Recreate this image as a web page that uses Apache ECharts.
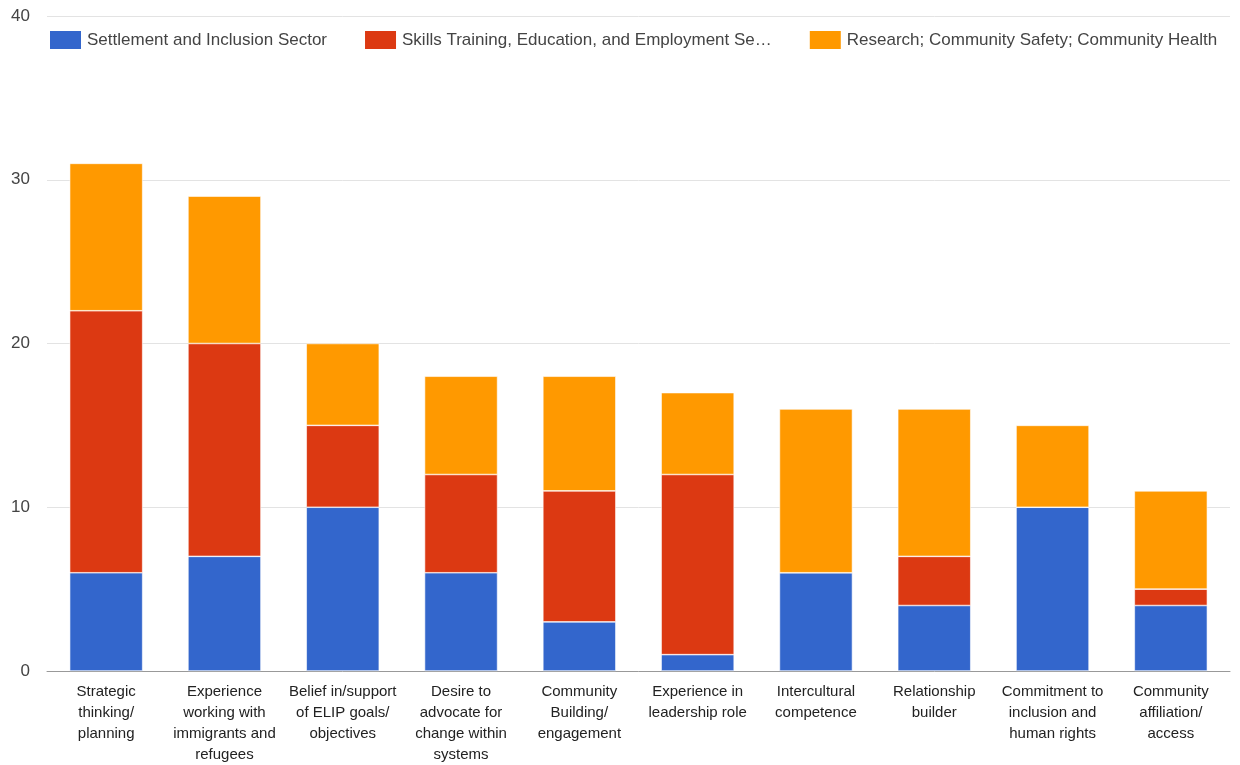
<!DOCTYPE html>
<html>
<head>
<meta charset="utf-8">
<script src="https://cdn.jsdelivr.net/npm/echarts@6/dist/echarts.min.js"></script>
<style>
  html, body { margin: 0; padding: 0; background: #fff; }
  #chart { width: 1240px; height: 765px; }
</style>
</head>
<body>
<div id="chart"></div>
<script>
const categories = [
  'Strategic\nthinking/\nplanning',
  'Experience\nworking with\nimmigrants and\nrefugees',
  'Belief in/support\nof ELIP goals/\nobjectives',
  'Desire to\nadvocate for\nchange within\nsystems',
  'Community\nBuilding/\nengagement',
  'Experience in\nleadership role',
  'Intercultural\ncompetence',
  'Relationship\nbuilder',
  'Commitment to\ninclusion and\nhuman rights',
  'Community\naffiliation/\naccess'
]
const seriesNames = [
  'Settlement and Inclusion Sector',
  'Skills Training, Education, and Employment Sector',
  'Research; Community Safety; Community Health'
]
const settlement = [6, 7, 10, 6, 3, 1, 6, 4, 10, 4]
const skills = [16, 13, 5, 6, 8, 11, 0, 3, 0, 1]
const research = [9, 9, 5, 6, 7, 5, 10, 9, 5, 6]
const colors = ['#3366cc', '#dc3912', '#ff9900']

const chart = echarts.init(document.getElementById('chart'))

const makeSeries = (name, data, color) => ({
  name,
  type: 'bar',
  stack: 'total',
  barWidth: 73,
  data,
  itemStyle: { color, borderColor: '#fff', borderWidth: 0.6 },
  emphasis: { focus: 'series' }
})

chart.setOption({
  animation: false,
  textStyle: { fontFamily: 'Liberation Sans, Arial, sans-serif' },
  legend: {
    left: 43,
    top: 24,
    itemWidth: 33,
    itemHeight: 20,
    itemGap: 36,
    icon: 'rect',
    textStyle: { fontSize: 17, color: '#444' },
    formatter: name => name.length > 46 ? name.slice(0, 45) + '…' : name
  },
  tooltip: { trigger: 'axis', axisPointer: { type: 'shadow' } },
  grid: { left: 47, right: 10, top: 16, bottom: 89 },
  xAxis: {
    type: 'category',
    data: categories,
    axisTick: { show: false },
    axisLine: { lineStyle: { color: '#999', width: 1 } },
    axisLabel: {
      interval: 0,
      margin: 10,
      fontSize: 15,
      lineHeight: 21,
      color: '#222'
    }
  },
  yAxis: {
    type: 'value',
    min: 0,
    max: 40,
    interval: 10,
    axisLine: { show: false },
    axisTick: { show: false },
    splitLine: { lineStyle: { color: '#e3e3e3' } },
    axisLabel: { fontSize: 17, color: '#444', margin: 17 }
  },
  series: [
    makeSeries(seriesNames[0], settlement, colors[0]),
    makeSeries(seriesNames[1], skills, colors[1]),
    makeSeries(seriesNames[2], research, colors[2])
  ]
})
window.addEventListener('resize', () => { chart.resize() })
</script>
</body>
</html>
